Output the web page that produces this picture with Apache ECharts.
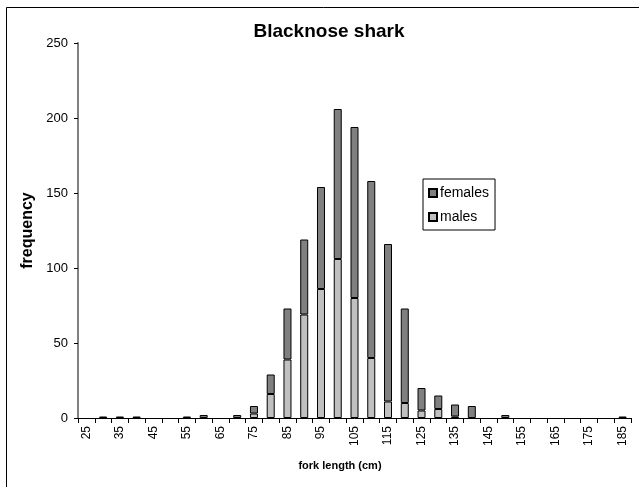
<!DOCTYPE html>
<html>
<head>
<meta charset="utf-8">
<script src="https://cdn.jsdelivr.net/npm/echarts@6/dist/echarts.min.js"></script>
<style>
  html, body { margin: 0; padding: 0; background: #fff; }
  #chart { width: 639px; height: 487px; }
</style>
</head>
<body>
<div id="chart"></div>
<script>
// fork length classes (cm)
const lengths = []
for (let l = 25; l <= 185; l += 5) lengths.push(String(l))

// counts, 25..185 cm ('-' = empty class)
const males = [
  '-', '-', '-', '-', '-', '-', '-', '-', '-', '-', 3, 16, 39, 69, 86, 106, 80, 40, 11, 10,
  5, 6, 1, '-', '-', '-', '-', '-', '-', '-', '-', '-', '-'
]
const females = [
  '-', 1, 1, 1, '-', '-', 1, 2, '-', 2, 5, 13, 34, 50, 68, 100, 114, 118, 105, 63,
  15, 9, 8, 8, '-', 2, '-', '-', '-', '-', '-', '-', 1
]

const chart = echarts.init(document.getElementById('chart'))

const axisFont = { fontFamily: 'Liberation Sans, Arial, sans-serif', fontSize: 12, color: '#000' }

const option = {
  animation: false,
  backgroundColor: '#fff',
  title: {
    text: 'Blacknose shark',
    left: 324,
    top: 17,
    textAlign: 'center',
    textStyle: { fontFamily: 'Liberation Sans, Arial, sans-serif', fontSize: 19, fontWeight: 'bold', color: '#000' }
  },
  grid: { left: 78, right: 8, top: 43, bottom: 69 },
  legend: {
    orient: 'vertical',
    left: 423,
    top: 179,
    data: ['females', 'males'],
    icon: 'rect',
    itemWidth: 8,
    itemHeight: 8,
    itemGap: 10,
    padding: [7, 6, 6, 5],
    borderColor: '#000',
    borderWidth: 1,
    textStyle: { ...axisFont, fontSize: 14, padding: [0, 0, 0, -2] }
  },
  xAxis: {
    type: 'category',
    data: lengths,
    name: 'fork length (cm)',
    nameLocation: 'middle',
    nameGap: 42,
    nameTextStyle: { ...axisFont, fontSize: 11, fontWeight: 'bold', padding: [0, 29, 0, 0] },
    axisLine: { lineStyle: { color: '#000', width: 1 } },
    axisTick: { show: true, interval: 0, length: 5, lineStyle: { color: '#000' } },
    axisLabel: { ...axisFont, fontSize: 12, rotate: 90, interval: 1, margin: 8 },
    splitLine: { show: false }
  },
  yAxis: {
    type: 'value',
    min: 0,
    max: 250,
    interval: 50,
    name: 'frequency',
    nameLocation: 'middle',
    nameGap: 38,
    nameRotate: 90,
    nameTextStyle: { ...axisFont, fontSize: 16, fontWeight: 'bold' },
    axisLine: { show: true, lineStyle: { color: '#808080', width: 2 } },
    axisTick: { show: true, inside: false, length: 4, lineStyle: { color: '#000' } },
    axisLabel: { ...axisFont, fontSize: 13, margin: 10 },
    splitLine: { show: false }
  },
  series: [
    {
      name: 'males',
      type: 'bar',
      stack: 'n',
      data: males,
      barWidth: 8,
      itemStyle: { color: '#c0c0c0', borderColor: '#000', borderWidth: 1 }
    },
    {
      name: 'females',
      type: 'bar',
      stack: 'n',
      data: females,
      barWidth: 8,
      itemStyle: { color: '#808080', borderColor: '#000', borderWidth: 1 }
    }
  ],
  graphic: [
    {
      type: 'rect',
      shape: { x: 6.5, y: 7.5, width: 640, height: 490 },
      style: { fill: null, stroke: '#000', lineWidth: 1 },
      silent: true
    }
  ]
}

chart.setOption(option)
</script>
</body>
</html>
